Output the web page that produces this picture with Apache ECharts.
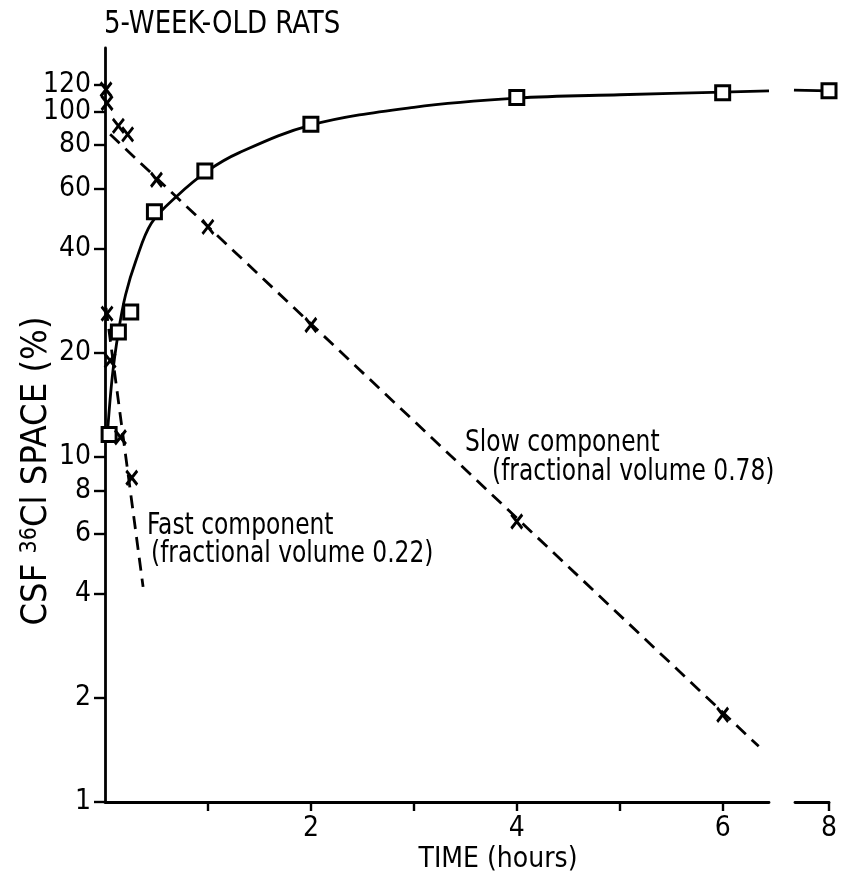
<!DOCTYPE html>
<html><head><meta charset="utf-8">
<script src="https://cdn.jsdelivr.net/npm/echarts@6/dist/echarts.min.js"></script>
<style>html,body{margin:0;padding:0;background:#fff}#c{width:851px;height:882px}</style>
</head><body><div id="c"></div>
<script>
// ---- data ----
const totalSpace = [[0.04,11.6],[0.13,23],[0.25,26.3],[0.48,51.3],[0.97,67.4],[2,92],[4,110],[6,113.5]];
const totalSpaceLate = [[8,115]];
const totalCurve = [[0.02,11.3],[0.07,17],[0.13,23],[0.2,29.5],[0.3,37],[0.45,47.5],[0.7,57],[1.0,67.5],[1.3,76],[2,91.5],[3,103],[4,109.5],[5,112],[6,114],[6.45,115]];
const totalCurveLate = [[7.66,115.5],[8,115]];
const slowPoints = [[0.01,116],[0.02,106],[0.13,91],[0.22,86],[0.5,63.5],[1,46.4],[2,24.1],[4,6.5],[6,1.79]];
const fastPoints = [[0.02,26],[0.05,19],[0.15,11.4],[0.26,8.7]];
const slowLine = [[0.05,86],[6.35,1.45]];
const fastLine = [[0.01,27],[0.37,4.2]];
const yTicks = [1,2,4,6,8,10,20,40,60,80,100,120];
const xTicks = [1,2,3,4,5,6];
const xLabels = [2,4,6];
const xTicksLate = [8];

// the top tick label is drawn by a twin axis so that ECharts does not drop a crowded neighbour
const yTicksMain = yTicks.slice(0, -1);
const yTicksTop = yTicks.slice(-1);

const FONT = "'Liberation Sans Narrow','DejaVu Sans Condensed','Liberation Sans',sans-serif";
const INK = '#000';
const chart = echarts.init(document.getElementById('c'), null, {renderer:'canvas'});

const xMark = 'path://M0,0L10,14M10,0L0,14';
const markStyle = {color:'none', borderColor:INK, borderWidth:3};

function txt(x, y, text, size, sy, extra) {
  return Object.assign({type:'text', x:x, y:y, scaleY:sy || 1,
    style:{text:text, font:size + 'px ' + FONT, fill:INK}}, extra || {});
}
const yLabelStyle = {color:INK, fontSize:28, fontFamily:FONT, margin:14, hideOverlap:false};

chart.setOption({
  animation:false,
  backgroundColor:'#fff',
  grid:[
    {left:105, top:48, width:664, height:754},
    {left:795, top:48, width:34, height:754}
  ],
  xAxis:[
    {gridIndex:0, type:'value', min:0, max:6.45,
     axisLine:{onZero:false, lineStyle:{color:INK, width:2.8}},
     splitLine:{show:false},
     axisTick:{customValues:xTicks, length:9, lineStyle:{color:INK, width:2.4}},
     axisLabel:{customValues:xLabels, color:INK, fontSize:28, fontFamily:FONT, margin:13, hideOverlap:false}},
    {gridIndex:1, type:'value', min:7.67, max:8,
     axisLine:{onZero:false, lineStyle:{color:INK, width:2.8}},
     splitLine:{show:false},
     axisTick:{customValues:xTicksLate, length:9, lineStyle:{color:INK, width:2.4}},
     axisLabel:{customValues:xTicksLate, color:INK, fontSize:28, fontFamily:FONT, margin:13, hideOverlap:false, showMaxLabel:true}}
  ],
  yAxis:[
    {gridIndex:0, type:'log', logBase:10, min:1, max:153, position:'left', offset:0,
     axisLine:{show:true, lineStyle:{color:INK, width:2.8}},
     splitLine:{show:false},
     axisTick:{customValues:yTicksMain, length:11, lineStyle:{color:INK, width:2.4}},
     axisLabel:Object.assign({customValues:yTicksMain, showMinLabel:true, showMaxLabel:true}, yLabelStyle)},
    {gridIndex:1, type:'log', logBase:10, min:1, max:153, show:false},
    {gridIndex:0, type:'log', logBase:10, min:1, max:153, position:'left', offset:0,
     axisLine:{show:false},
     splitLine:{show:false},
     axisTick:{show:true, customValues:yTicksTop, length:11, lineStyle:{color:INK, width:2.4}},
     axisLabel:Object.assign({customValues:yTicksTop, showMinLabel:true, showMaxLabel:true}, yLabelStyle)}
  ],
  graphic:[
    txt(104, 9, '5-WEEK-OLD RATS', 29, 1.08),
    {type:'text', x:498, y:860, style:{text:'TIME (hours)', font:'28px ' + FONT, fill:INK, textAlign:'center', textVerticalAlign:'middle', align:'center', verticalAlign:'middle'}},
    {type:'text', x:37, y:471, rotation:Math.PI/2,
     style:{text:'{n|CSF }{s|36}{n|Cl SPACE (%)}', fill:INK, textAlign:'center', textVerticalAlign:'middle', align:'center', verticalAlign:'middle',
       rich:{n:{fontSize:36, fontFamily:FONT, color:INK, verticalAlign:'bottom'}, s:{fontSize:23, fontFamily:FONT, color:INK, verticalAlign:'top'}}}},
    txt(465, 428, 'Slow component', 26, 1.18),
    txt(492, 457, '(fractional volume 0.78)', 26, 1.18),
    txt(147, 511, 'Fast component', 26, 1.18),
    txt(151, 539, '(fractional volume 0.22)', 26, 1.18)
  ],
  series:[
    {type:'line', xAxisIndex:0, yAxisIndex:0, data:totalCurve, smooth:0.35, showSymbol:false, clip:false,
     lineStyle:{color:INK, width:2.8}, z:3},
    {type:'line', xAxisIndex:1, yAxisIndex:1, data:totalCurveLate, showSymbol:false, clip:false,
     lineStyle:{color:INK, width:2.8}, z:3},
    {type:'line', xAxisIndex:0, yAxisIndex:0, data:slowLine, showSymbol:false, clip:false,
     lineStyle:{color:INK, width:2.8, type:[13,8]}, z:3},
    {type:'line', xAxisIndex:0, yAxisIndex:0, data:fastLine, showSymbol:false, clip:false,
     lineStyle:{color:INK, width:2.8, type:[13,8]}, z:3},
    {type:'scatter', xAxisIndex:0, yAxisIndex:0, data:totalSpace, symbol:'rect', symbolSize:14, clip:false,
     itemStyle:{color:'#fff', borderColor:INK, borderWidth:3, opacity:1}, z:5},
    {type:'scatter', xAxisIndex:1, yAxisIndex:1, data:totalSpaceLate, symbol:'rect', symbolSize:14, clip:false,
     itemStyle:{color:'#fff', borderColor:INK, borderWidth:3, opacity:1}, z:5},
    {type:'scatter', xAxisIndex:0, yAxisIndex:0, data:slowPoints, symbol:xMark, symbolSize:[11,14], clip:false,
     itemStyle:Object.assign({opacity:1}, markStyle), z:6},
    {type:'scatter', xAxisIndex:0, yAxisIndex:0, data:fastPoints, symbol:xMark, symbolSize:[11,14], clip:false,
     itemStyle:Object.assign({opacity:1}, markStyle), z:6}
  ]
});
</script></body></html>
